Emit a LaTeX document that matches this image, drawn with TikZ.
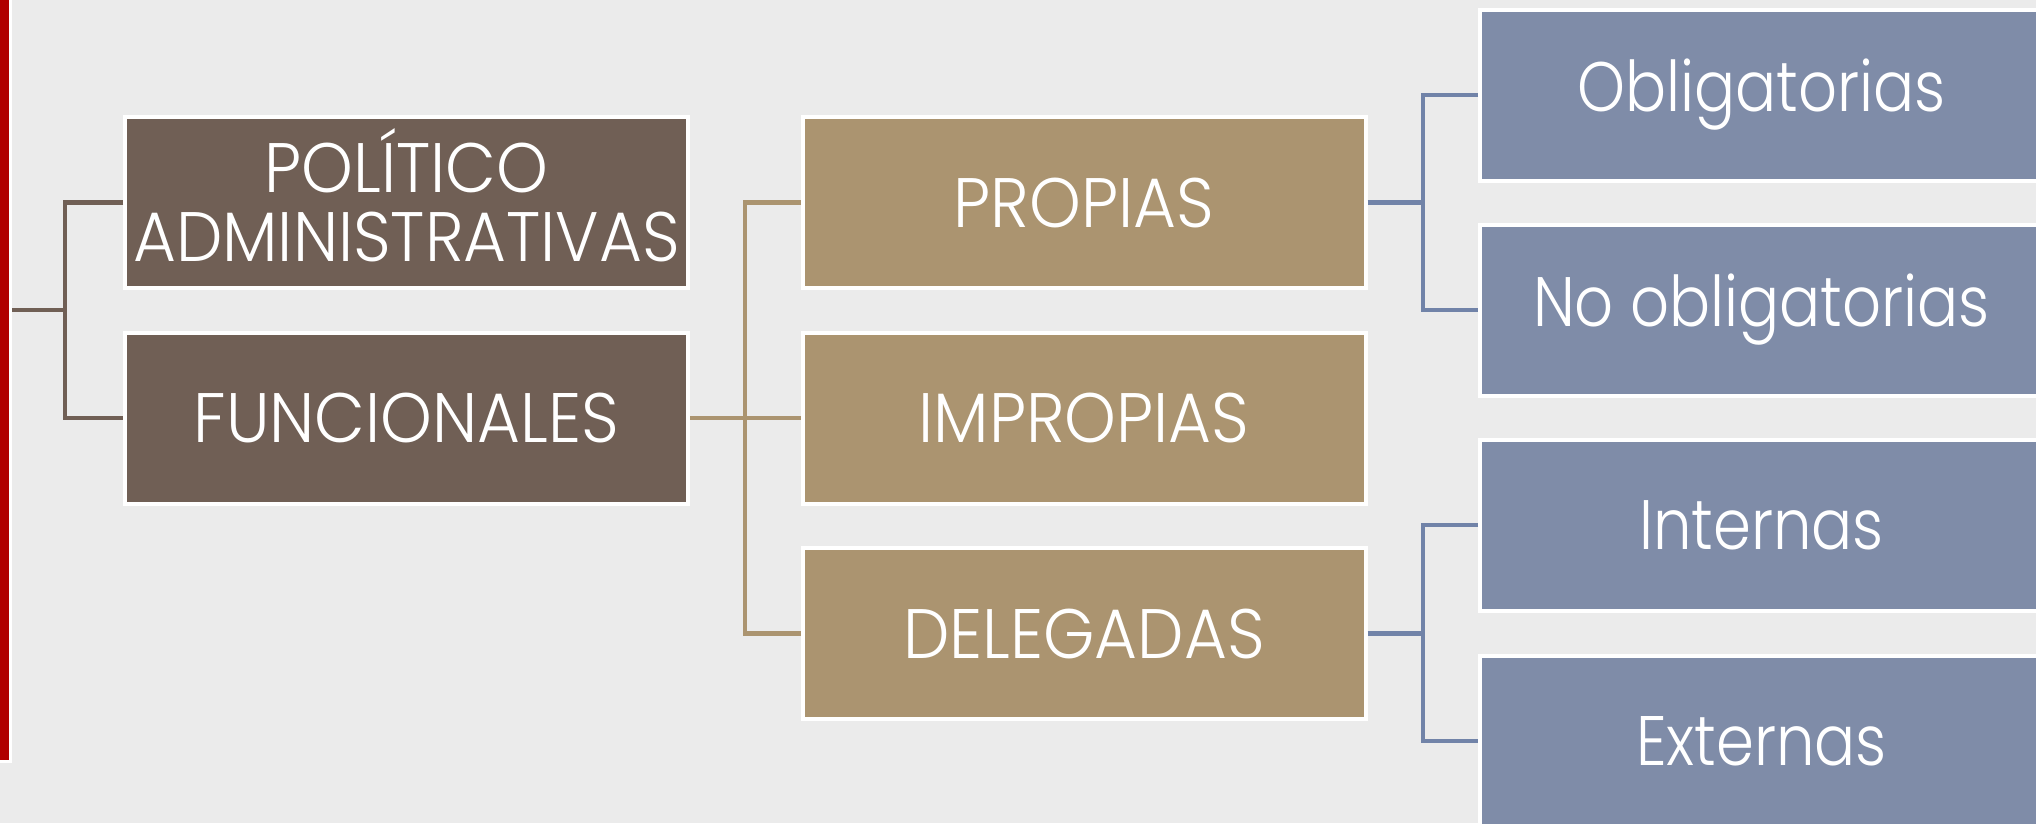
\documentclass[tikz,border=0pt]{standalone}
\usepackage{fontspec}
\setmainfont{Poppins Light}[FakeStretch=0.87]
\newfontfamily\capsfont{Poppins Light}[FakeStretch=0.94]
\definecolor{bgc}{RGB}{235,235,235}
\definecolor{brownbox}{RGB}{112,95,85}
\definecolor{tanbox}{RGB}{171,148,112}
\definecolor{bluebox}{RGB}{127,140,168}
\definecolor{blueline}{RGB}{113,131,168}
\definecolor{redbar}{RGB}{176,0,0}
\tikzset{
  cbox/.style={draw=white, line width=4pt, minimum width=563pt, minimum height=171pt,
    inner sep=0pt, text=white, align=center,
    font=\fontsize{70}{69}\selectfont},
  brownnode/.style={cbox, fill=brownbox, font=\capsfont\fontsize{70}{69}\selectfont},
  tannode/.style={cbox, fill=tanbox, font=\capsfont\fontsize{70}{69}\selectfont},
  bluenode/.style={cbox, fill=bluebox},
  conn/.style={line width=4.5pt}
}
\begin{document}
\begin{tikzpicture}[x=1pt,y=-1pt]
\useasboundingbox (0,0) rectangle (2036,823);
\clip (0,0) rectangle (2036,823);
\fill[bgc] (0,0) rectangle (2036,823);
% red bar
\node[draw=white, line width=3pt, fill=redbar, minimum width=16pt, minimum height=765pt, inner sep=0pt, anchor=north east] (rb) at (12,-5) {};
% column 1
\node[brownnode] (pol) at (406.5,202.5) {POLÍTICO\\ADMINISTRATIVAS\rule[-14pt]{0pt}{14pt}};
\node[brownnode] (fun) at (406.5,418) {FUNCIONALES};
% column 2
\node[tannode] (pro) at (1084,202.5) {PROPIAS};
\node[tannode] (imp) at (1084,418) {IMPROPIAS};
\node[tannode] (del) at (1084,633.5) {DELEGADAS};
% column 3
\node[bluenode] (obl) at (1761.5,95) {Obligatorias};
\node[bluenode] (nob) at (1761.5,310) {No obligatorias};
\node[bluenode] (int) at (1761.5,525) {Internas};
\node[bluenode] (ext) at (1761.5,741) {Externas};
% junction coordinates
\coordinate (j1) at (65,310);
\coordinate (j2) at (745,418);
\coordinate (j3) at (1423,202.5);
\coordinate (j4) at (1423,633.5);
% connectors
\draw[conn, brownbox] (rb.east |- j1) -- (j1);
\draw[conn, brownbox] (pol.west) -| (j1) |- (fun.west);
\draw[conn, tanbox] (fun.east) -- (imp.west);
\draw[conn, tanbox] (pro.west) -| (j2) |- (del.west);
\draw[conn, blueline] (pro.east) -- (j3);
\draw[conn, blueline] (obl.west) -| (j3) |- (nob.west);
\draw[conn, blueline] (del.east) -- (j4);
\draw[conn, blueline] (int.west) -| (j4) |- (ext.west);
\end{tikzpicture}
\end{document}
